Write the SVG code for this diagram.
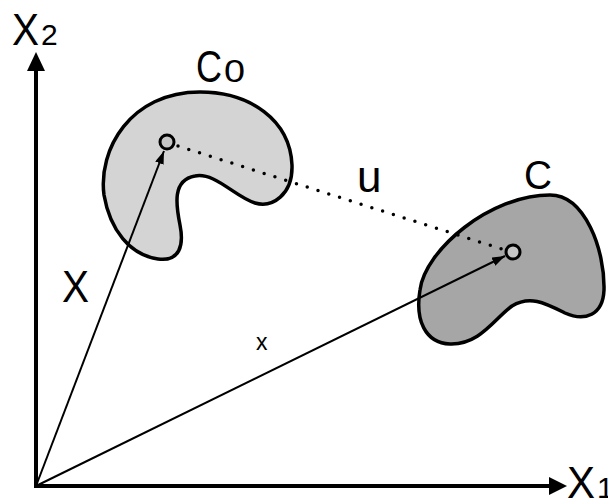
<svg xmlns="http://www.w3.org/2000/svg" width="608" height="503" viewBox="0 0 608 503">
<defs>
<style>
.t{font-family:"Liberation Sans",Arial,sans-serif;fill:#000}
.blob{stroke:#000;stroke-width:3.5;stroke-linejoin:round}
.pt{fill:#c6c6c6;stroke:#000;stroke-width:3}
.vec{stroke:#000;stroke-width:2;fill:none}
</style>
<marker id="ah" markerUnits="userSpaceOnUse" markerWidth="14" markerHeight="10" refX="13" refY="4.5" orient="auto" viewBox="0 0 14 10">
<path d="M0,0 L13,4.5 L0,9 z" fill="#000"/>
</marker>
</defs>
<g id="axes">
<path d="M36,70 L36,486 L551,486" fill="none" stroke="#000" stroke-width="4"/>
<polygon points="36,52 27,71 45,71" fill="#000"/>
<polygon points="567,486 549,477 549,495" fill="#000"/>
<text class="t" x="12" y="45" font-size="45" textLength="27" lengthAdjust="spacingAndGlyphs">X</text>
<text class="t" x="41" y="45" font-size="30">2</text>
<text class="t" x="567" y="498" font-size="45" textLength="28" lengthAdjust="spacingAndGlyphs">X</text>
<text class="t" x="597" y="498" font-size="30">1</text>
</g>
<g id="C0">
<path class="blob" fill="#d4d4d4" d="M200,92 C250,92 290,120 292,165 C293,195 272,208 255,203 C235,197 215,172 195,176 C172,180 176,205 180,225 C184,245 180,262 158,259 C130,255 110,230 104,195 C98,150 130,92 200,92 Z"/>
<text class="t" x="196" y="82" font-size="44" textLength="26" lengthAdjust="spacingAndGlyphs">C</text>
<text class="t" x="224" y="82" font-size="31" textLength="21" lengthAdjust="spacingAndGlyphs">0</text>
</g>
<g id="C">
<path class="blob" fill="#a6a6a6" d="M550,195 C585,195 605,250 604,290 C603,315 585,322 565,313 C545,303 530,295 512,306 C495,318 480,345 450,344 C425,343 415,320 420,290 C425,250 490,195 550,195 Z"/>
<text class="t" x="524" y="189" font-size="40" textLength="28" lengthAdjust="spacingAndGlyphs">C</text>
</g>
<g id="connectors">
<line x1="178" y1="146" x2="505" y2="250" stroke="#000" stroke-width="3.5" stroke-linecap="round" stroke-dasharray="0 11.3"/>
<line class="vec" x1="36" y1="486" x2="164" y2="151" marker-end="url(#ah)"/>
<line class="vec" x1="36" y1="486" x2="505" y2="256" marker-end="url(#ah)"/>
<text class="t" x="357" y="192" font-size="44">u</text>
<text class="t" x="62" y="302" font-size="44" textLength="27" lengthAdjust="spacingAndGlyphs">X</text>
<text class="t" x="256" y="350" font-size="23">x</text>
</g>
<g id="p0"><circle class="pt" cx="167" cy="142" r="7"/></g>
<g id="p1"><circle class="pt" cx="513" cy="252" r="7"/></g>
</svg>
